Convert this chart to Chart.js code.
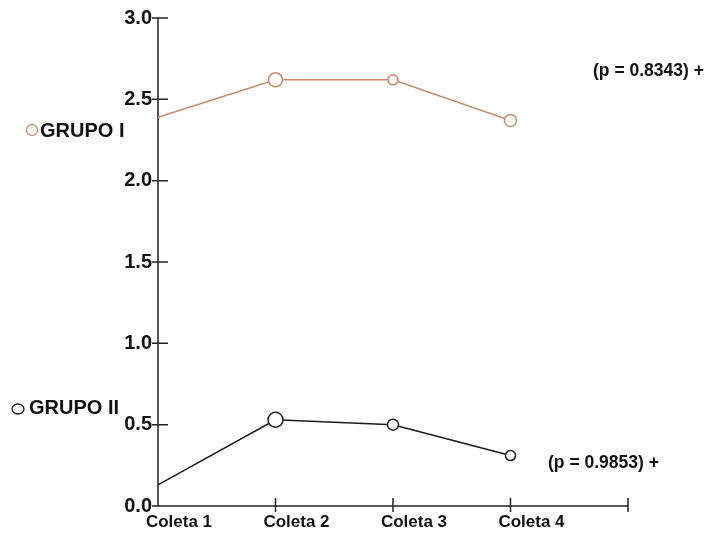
<!DOCTYPE html>
<html>
<head>
<meta charset="utf-8">
<script src="https://cdn.jsdelivr.net/npm/chart.js@4.4.0/dist/chart.umd.min.js"></script>
<style>
  body { margin: 0; background: #fff; }
  canvas { display: block; }
</style>
</head>
<body>
<canvas id="chart" width="715" height="535"></canvas>
<script>
const categories = ["Coleta 1", "Coleta 2", "Coleta 3", "Coleta 4", ""];
const grupo1 = [2.39, 2.62, 2.62, 2.37];
const grupo2 = [0.13, 0.53, 0.50, 0.31];
const seriesNames = ["GRUPO I", "GRUPO II"];
const pLabels = ["(p = 0.8343) +", "(p = 0.9853) +"];
const yMin = 0, yMax = 3, yStep = 0.5;

const brown = "#c98b6d";
const dark = "#1a1a1a";
const font = '"Liberation Sans", Arial, sans-serif';

const axesPlugin = {
  id: "axes",
  beforeDatasetsDraw(chart) {
    const { ctx, scales: { x, y } } = chart;
    ctx.save();
    ctx.strokeStyle = "#222";
    ctx.lineWidth = 1.5;
    ctx.beginPath();
    ctx.moveTo(x.left, y.top);
    ctx.lineTo(x.left, y.bottom);
    ctx.lineTo(x.right, y.bottom);
    y.ticks.forEach(t => {
      const py = y.getPixelForValue(t.value);
      ctx.moveTo(x.left - 6, py);
      ctx.lineTo(x.left + 10, py);
    });
    categories.forEach((c, i) => {
      if (i === 0) return;
      const px = x.getPixelForValue(i);
      ctx.moveTo(px, y.bottom - 8);
      ctx.lineTo(px, y.bottom + 6);
    });
    ctx.stroke();
    ctx.restore();
  },
  afterDraw(chart) {
    const { ctx } = chart;
    ctx.save();
    ctx.lineWidth = 1.3;
    ctx.textBaseline = "middle";
    ctx.fillStyle = "#111";

    // legend entries
    ctx.font = `bold 20px ${font}`;
    ctx.strokeStyle = brown;
    ctx.beginPath();
    ctx.arc(32, 130, 5.5, 0, Math.PI * 2);
    ctx.stroke();
    ctx.fillText(seriesNames[0], 40, 131);

    ctx.strokeStyle = dark;
    ctx.beginPath();
    ctx.ellipse(18, 409, 6, 5, 0, 0, Math.PI * 2);
    ctx.stroke();
    ctx.fillText(seriesNames[1], 29, 408);

    // p values
    ctx.font = `bold 17.5px ${font}`;
    ctx.fillText(pLabels[0], 593, 71);
    ctx.fillText(pLabels[1], 548, 463);
    ctx.restore();
  }
};

new Chart(document.getElementById("chart"), {
  type: "line",
  data: {
    labels: categories,
    datasets: [
      {
        label: seriesNames[0],
        data: grupo1,
        borderColor: brown,
        borderWidth: 1.5,
        pointRadius: [0, 7, 5, 6],
        pointBorderColor: brown,
        pointBackgroundColor: "#fff",
        pointBorderWidth: 1.5,
        tension: 0
      },
      {
        label: seriesNames[1],
        data: grupo2,
        borderColor: dark,
        borderWidth: 1.5,
        pointRadius: [0, 7.5, 5.5, 5],
        pointBorderColor: dark,
        pointBackgroundColor: "#fff",
        pointBorderWidth: 1.5,
        tension: 0
      }
    ]
  },
  options: {
    responsive: false,
    animation: false,
    layout: { padding: { left: 0, right: 87, top: 18, bottom: 0 } },
    plugins: { legend: { display: false }, tooltip: { enabled: false } },
    scales: {
      x: {
        offset: false,
        grid: { display: false, drawTicks: false },
        border: { display: false },
        afterFit: s => { s.height = 29; },
        ticks: {
          padding: 6,
          labelOffset: 21,
          maxRotation: 0,
          autoSkip: false,
          color: "#111",
          font: { family: font, size: 17, weight: "bold" }
        }
      },
      y: {
        min: yMin,
        max: yMax,
        grid: { display: false, drawTicks: false },
        border: { display: false },
        afterFit: s => { s.width = 158; },
        ticks: {
          stepSize: yStep,
          padding: 6,
          color: "#111",
          callback: v => v.toFixed(1),
          font: { family: font, size: 20, weight: "bold" }
        }
      }
    }
  },
  plugins: [axesPlugin]
});
</script>
</body>
</html>
